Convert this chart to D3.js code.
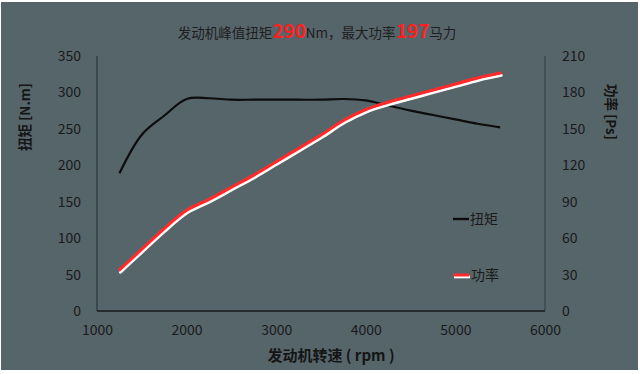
<!DOCTYPE html>
<html>
<head>
<meta charset="utf-8">
<script src="https://cdn.jsdelivr.net/npm/d3@7"></script>
<style>
    body { margin: 0; background: #fff; }
    svg { display: block; }
    .tick-label { font-family: "Noto Sans CJK SC", "Open Sans", sans-serif; font-size: 14px; fill: #1a1a1a; }
    .axis-title { font-family: "Noto Sans CJK SC", sans-serif; font-size: 13px; font-weight: bold; fill: #151515; }
</style>
</head>
<body>
<svg id="chart" width="640" height="374"></svg>
<script>
(function (d3) {
    'use strict';

    // engine speed (rpm)
    var rpm = [1250, 1500, 1750, 2000, 2250, 2500, 2750, 3000, 3250, 3500, 3750, 4000, 4250, 4500, 4750, 5000, 5250, 5500];
    // torque (N.m)
    var torque = [189, 242, 268, 291, 292, 290, 290, 290, 290, 290, 291, 289, 282, 275, 269, 263, 257, 252];
    // power (Ps)
    var power = [34, 51, 68, 83, 92, 102, 112, 123, 134, 145, 157, 166, 172, 177, 182, 187, 192, 196];

    var xTicks = [1000, 2000, 3000, 4000, 5000, 6000],
        torqueTicks = [0, 50, 100, 150, 200, 250, 300, 350],
        powerTicks = [0, 30, 60, 90, 120, 150, 180, 210];

    var svg = d3.select('#chart'),
        W = +svg.attr('width'),
        H = +svg.attr('height'),
        margin = { top: 56, right: 95, bottom: 63, left: 97 },
        width = W - margin.left - margin.right,
        height = H - margin.top - margin.bottom;

    // background with the thin white frame
    svg.append('rect').attr('width', W).attr('height', H).attr('fill', '#fff');
    svg.append('rect')
        .attr('x', 1).attr('y', 2)
        .attr('width', W - 3).attr('height', H - 6)
        .attr('fill', '#56656a');

    var x = d3.scaleLinear().domain([1000, 6000]).range([0, width]),
        yL = d3.scaleLinear().domain([0, 350]).range([height, 0]),
        yR = d3.scaleLinear().domain([0, 210]).range([height, 0]);

    var data = rpm.map(function (r, i) {
        return { rpm: r, torque: torque[i], power: power[i] };
    });

    var g = svg.append('g')
        .attr('transform', 'translate(' + margin.left + ',' + margin.top + ')');

    // axes (no tick marks, just lines and labels)
    var axL = g.append('g').call(d3.axisLeft(yL).tickValues(torqueTicks).tickSize(0).tickPadding(16));
    var axR = g.append('g').attr('transform', 'translate(' + width + ',0)')
        .call(d3.axisRight(yR).tickValues(powerTicks).tickSize(0).tickPadding(17));
    var axB = g.append('g').attr('transform', 'translate(0,' + height + ')')
        .call(d3.axisBottom(x).tickValues(xTicks).tickFormat(d3.format('d')).tickSize(0).tickPadding(14));

    [axL, axR, axB].forEach(function (a) {
        a.selectAll('.domain').remove();
        a.selectAll('text').attr('class', 'tick-label');
    });

    g.append('line').attr('x1', 0).attr('x2', 0).attr('y1', 0).attr('y2', height)
        .attr('stroke', '#2e3538').attr('stroke-width', 1.2);
    g.append('line').attr('x1', width).attr('x2', width).attr('y1', 0).attr('y2', height)
        .attr('stroke', '#3a4245').attr('stroke-width', 1.2);
    g.append('line').attr('x1', 0).attr('x2', width).attr('y1', height).attr('y2', height)
        .attr('stroke', '#262c2e').attr('stroke-width', 2);

    var torqueLine = d3.line()
        .x(function (d) { return x(d.rpm); })
        .y(function (d) { return yL(d.torque); })
        .curve(d3.curveCatmullRom.alpha(0.5));

    var powerLine = d3.line()
        .x(function (d) { return x(d.rpm); })
        .y(function (d) { return yR(d.power); })
        .curve(d3.curveMonotoneX);

    g.append('path')
        .datum(data)
        .attr('fill', 'none')
        .attr('stroke', '#0d0d0d')
        .attr('stroke-width', 2.2)
        .attr('d', torqueLine);

    // power: white edge under a red stroke
    g.append('path')
        .datum(data)
        .attr('transform', 'translate(1,2.4)')
        .attr('fill', 'none')
        .attr('stroke', '#fff')
        .attr('stroke-width', 3)
        .attr('stroke-linecap', 'round')
        .attr('d', powerLine);

    g.append('path')
        .datum(data)
        .attr('fill', 'none')
        .attr('stroke', '#ff2a2a')
        .attr('stroke-width', 3.2)
        .attr('stroke-linecap', 'round')
        .attr('d', powerLine);

    // legend
    var legend = svg.append('g').attr('transform', 'translate(453,0)');
    legend.append('line').attr('x1', 0).attr('x2', 16).attr('y1', 219).attr('y2', 219)
        .attr('stroke', '#0d0d0d').attr('stroke-width', 2.4);
    legend.append('text').attr('class', 'tick-label').attr('x', 17).attr('y', 224).text('扭矩');

    legend.append('line').attr('x1', 1).attr('x2', 17).attr('y1', 277).attr('y2', 277)
        .attr('stroke', '#fff').attr('stroke-width', 2.6);
    legend.append('line').attr('x1', 0).attr('x2', 16).attr('y1', 275).attr('y2', 275)
        .attr('stroke', '#ff2a2a').attr('stroke-width', 3);
    legend.append('text').attr('class', 'tick-label').attr('x', 18).attr('y', 280).text('功率');

    // axis titles
    svg.append('text')
        .attr('class', 'axis-title')
        .attr('transform', 'translate(30,117) rotate(-90)')
        .attr('text-anchor', 'middle')
        .style('font-size', '13.5px')
        .text('扭矩 [N.m]');

    svg.append('text')
        .attr('class', 'axis-title')
        .attr('transform', 'translate(606,112) rotate(90)')
        .attr('text-anchor', 'middle')
        .style('font-size', '13.5px')
        .text('功率 [Ps]');

    svg.append('text')
        .attr('class', 'axis-title')
        .attr('x', 331).attr('y', 361)
        .attr('text-anchor', 'middle')
        .style('font-size', '15px')
        .text('发动机转速 ( rpm )');

    // title with highlighted numbers
    var title = svg.append('text')
        .attr('x', 317).attr('y', 38)
        .attr('text-anchor', 'middle')
        .style('font-family', '"Noto Sans CJK SC", sans-serif')
        .style('font-size', '13.5px')
        .style('fill', '#1e1e1e');
    title.append('tspan').text('发动机峰值扭矩');
    title.append('tspan').style('fill', '#ff1f1f').style('font-weight', 'bold').style('font-size', '19px').text('290');
    title.append('tspan').text('Nm，最大功率');
    title.append('tspan').style('fill', '#ff1f1f').style('font-weight', 'bold').style('font-size', '19px').text('197');
    title.append('tspan').text('马力');
})(window.d3);
</script>
</body>
</html>
